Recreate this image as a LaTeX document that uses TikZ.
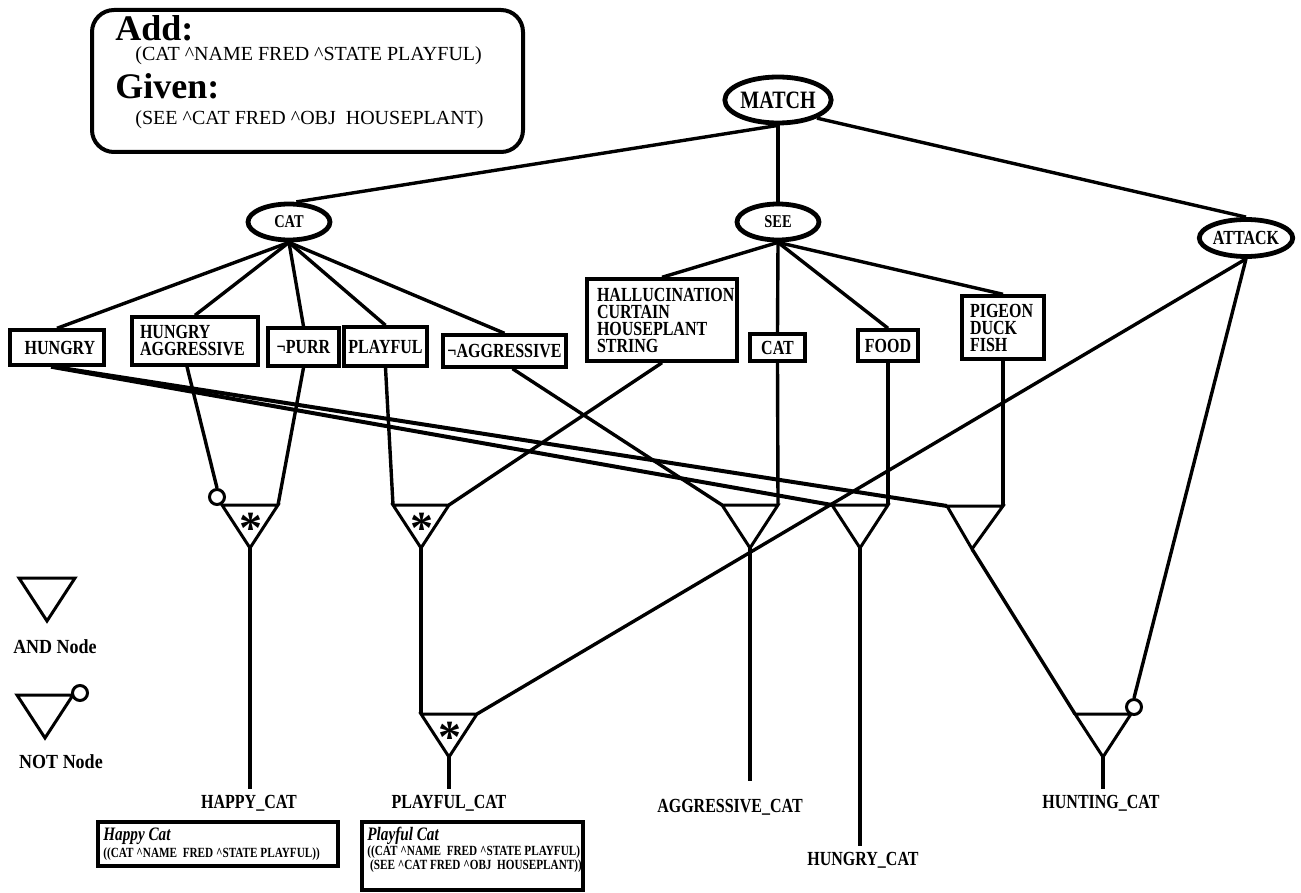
\documentclass[tikz,border=0pt]{standalone}
\usepackage{fontspec}
\setmainfont{Liberation Serif}
\newfontfamily\labfont[FakeStretch=0.8]{Liberation Serif}
\newfontfamily\legfont[FakeStretch=0.9]{Liberation Serif}
\usetikzlibrary{shapes.geometric}
\begin{document}
\begin{tikzpicture}[x=0.5pt,y=-0.5pt,
  lab/.style={font=\labfont\bfseries\fontsize{10}{8.5}\selectfont},
  termbox/.style={draw,line width=1.7pt,lab,inner ysep=0pt,inner xsep=4pt,align=left},
  oval/.style={ellipse,draw,line width=2.4pt,inner sep=0pt,lab},
  wire/.style={line width=1.7pt},
  thickwire/.style={line width=2pt},
  gate/.style={line width=1.5pt,line join=miter},
  outlab/.style={lab,inner sep=3pt},
  notbub/.style={circle,draw,line width=1.5pt,inner sep=0pt,minimum size=7.5pt,fill=white},
  starmark/.style={font=\bfseries\fontsize{23}{23}\selectfont,inner sep=0pt},
  insttitle/.style={anchor=base west,inner sep=0pt,font=\labfont\bfseries\itshape\fontsize{9.5}{9.5}\selectfont},
  instline/.style={anchor=base west,inner sep=0pt,font=\labfont\bfseries\fontsize{7}{7}\selectfont},
  pics/andgate/.style={code={
    \draw[gate] (-28,0) coordinate (-l) -- (28,0) coordinate (-r) -- (0,43) coordinate (-a) -- cycle;}},
  pics/skewgate/.style={code={
    \draw[gate] (-28,0) coordinate (-l) -- (28,0) coordinate (-r) -- (-3,43) coordinate (-a) -- cycle;}},
  pics/stargate/.style={code={
    \draw[gate] (-28,0) coordinate (-l) -- (28,0) coordinate (-r) -- (0,43) coordinate (-a) -- cycle;
    \node[starmark] at (1,23) {*};}}
]
\useasboundingbox (0,0) rectangle (1301,893);
\fill[white] (0,0) rectangle (1301,893);

% working memory change
\node[draw,rounded corners=11pt,line width=2pt,minimum width=215.5pt,minimum height=71pt] (wm) at (307.5,81) {};
\node[anchor=base west,inner sep=0pt,font=\bfseries\fontsize{18}{18}\selectfont] (addhd) at (115,41) {Add:};
\node[anchor=base west,inner sep=0pt,font=\fontsize{10}{10}\selectfont] (addwme) at (135,61) {(CAT {\textasciicircum}NAME FRED {\textasciicircum}STATE PLAYFUL)};
\node[anchor=base west,inner sep=0pt,font=\bfseries\fontsize{18}{18}\selectfont] (givhd) at (115,99) {Given:};
\node[anchor=base west,inner sep=0pt,font=\fontsize{10}{10}\selectfont] (givwme) at (135,125) {(SEE {\textasciicircum}CAT FRED {\textasciicircum}OBJ\ \ HOUSEPLANT)};

% class tests
\node[oval,minimum width=47.5pt,minimum height=23pt,font=\labfont\bfseries\fontsize{12.5}{12.5}\selectfont] (match) at (778,100) {MATCH};
\node[oval,minimum width=41pt,minimum height=18pt,font=\labfont\bfseries\fontsize{9}{9}\selectfont] (cat) at (289,222) {CAT};
\node[oval,minimum width=41pt,minimum height=18pt,font=\labfont\bfseries\fontsize{9}{9}\selectfont] (see) at (778,222) {SEE};
\node[oval,minimum width=42.5pt,minimum height=18.5pt] (att) at (1246,238) {ATTACK};

% attribute tests
\node[termbox,minimum width=47pt,minimum height=17.5pt] (hun) at (57,347.5) {\hspace{3pt}HUNGRY};
\node[termbox,text width=55pt,minimum height=24pt] (hagg) at (195,341) {HUNGRY\\AGGRESSIVE};
\node[termbox,minimum width=35.5pt,minimum height=19pt,inner xsep=1pt] (npurr) at (303.5,347) {¬PURR};
\node[termbox,minimum width=41.5pt,minimum height=19.5pt,inner xsep=1pt] (play) at (385.5,346.5) {PLAYFUL};
\node[termbox,minimum width=61.5pt,minimum height=16pt,inner xsep=1pt] (nagg) at (504.5,351) {¬AGGRESSIVE};
\node[termbox,text width=65pt,inner xsep=5pt,minimum height=41pt] (hall) at (662,320) {HALLUCINATION\\CURTAIN\\HOUSEPLANT\\STRING};
\node[termbox,minimum width=27.5pt,minimum height=13.5pt,inner xsep=1pt] (scat) at (777.5,347.5) {CAT};
\node[termbox,minimum width=30pt,minimum height=15.5pt,inner xsep=1pt] (food) at (888,345.5) {FOOD};
\node[termbox,text width=33pt,minimum height=31.5pt] (pig) at (1003,327.5) {PIGEON\\DUCK\\FISH};

% join nodes
\pic (hap) at (250,505) {stargate};
\pic (pl1) at (421,505) {stargate};
\pic (agg) at (750,505) {andgate};
\pic (hcat) at (860,505) {andgate};
\pic (hun1) at (975,506) {skewgate};
\pic (pl2) at (449,714) {stargate};
\pic (hun2) at (1103,714) {andgate};

% production names
\node[outlab] (lhap) at (249,803) {HAPPY\_CAT};
\node[outlab] (lplay) at (449,803) {PLAYFUL\_CAT};
\node[outlab] (lagg) at (730,807) {AGGRESSIVE\_CAT};
\node[outlab] (lhcat) at (863,860) {HUNGRY\_CAT};
\node[outlab] (lhunt) at (1101,803) {HUNTING\_CAT};

% instantiations
\node[draw,line width=1.7pt,minimum width=120pt,minimum height=22pt,inner sep=0pt] (hapbox) at (218,844) {};
\node[insttitle] (hapttl) at (103,840) {Happy Cat};
\node[instline] (hapinst) at (103,857) {((CAT {\textasciicircum}NAME\ \ FRED {\textasciicircum}STATE PLAYFUL))};
\node[draw,line width=1.7pt,minimum width=110.5pt,minimum height=34pt,inner sep=0pt] (plbox) at (472.5,856) {};
\node[insttitle] (plttl) at (367,840) {Playful Cat};
\node[instline] (plinsta) at (367,855) {((CAT {\textasciicircum}NAME\ \ FRED {\textasciicircum}STATE PLAYFUL)};
\node[instline] (plinstb) at (367,869) {\ (SEE {\textasciicircum}CAT FRED {\textasciicircum}OBJ\ \ HOUSEPLANT))};

% legend
\pic (legand) at (47,578) {andgate};
\node[font=\legfont\bfseries\fontsize{10}{10}\selectfont,inner sep=0pt] (legandt) at (55,647) {AND Node};
\pic (legnot) at (45,695) {andgate};
\node[notbub] (legbub) at (80,693) {};
\node[font=\legfont\bfseries\fontsize{10}{10}\selectfont,inner sep=0pt] (legnott) at (61,762) {NOT Node};

% negation bubbles
\node[notbub] (hapnot) at (217,497) {};
\node[notbub] (hunnot) at (1134,707) {};

% alpha network
\draw[wire] (match.south) -- (cat.70);
\draw[wire] (match.south) -- (see.north);
\draw[wire] (match.-25) -- (att.north);
\foreach \t in {hun,hagg,npurr,play,nagg}
  \draw[wire] (cat.south) -- (\t.north);
\foreach \t in {hall,scat,food,pig}
  \draw[wire] (see.south) -- (\t.north);

% beta network
\draw[wire] ([xshift=-4pt]hagg.south) -- (hapnot.north);
\draw[wire] (npurr.south) -- (hap-r);
\draw[wire] (play.south) -- (pl1-l);
\draw[wire] (hall.south) -- (pl1-r);
\draw[wire] ([xshift=4pt]nagg.south) -- (agg-l);
\draw[wire] (scat.south) -- (agg-r);
\draw[thickwire] ([xshift=-3pt]hun.south) -- (hcat-l);
\draw[thickwire] ([xshift=-2pt]hun.south) -- (hun1-l);
\draw[wire] (food.south) -- (hcat-r);
\draw[wire] (pig.south) -- (hun1-r);
\draw[wire] (pl1-a) -- (pl2-l);
\draw[wire] (att.south) -- (pl2-r);
\draw[wire] (att.south) -- (hunnot.north);
\draw[wire] (hun1-a) -- (hun2-l);

% outputs
\draw[wire] (hap-a) -- (hap-a |- lhap.north);
\draw[wire] (pl2-a) -- (pl2-a |- lplay.north);
\draw[wire] (agg-a) -- ([yshift=6pt]agg-a |- lagg.north);
\draw[wire] (hcat-a) -- (hcat-a |- lhcat.north);
\draw[wire] (hun2-a) -- (hun2-a |- lhunt.north);
\end{tikzpicture}
\end{document}
